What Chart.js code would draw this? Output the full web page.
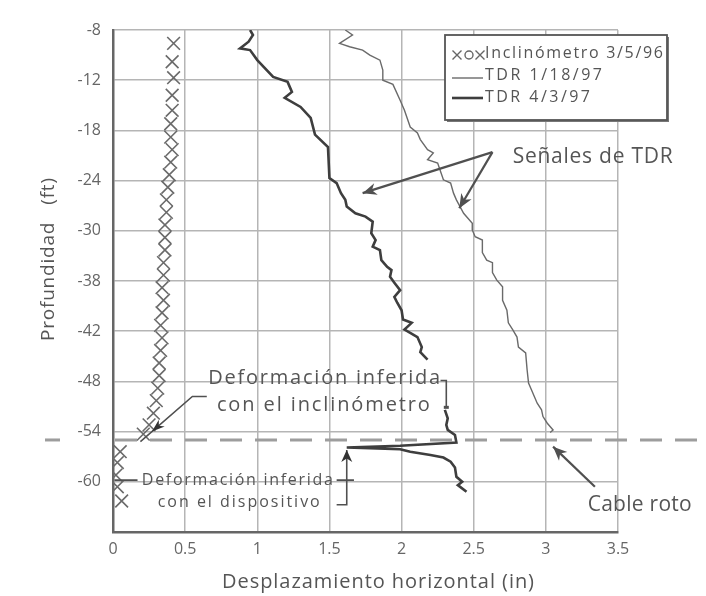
<!DOCTYPE html>
<html><head><meta charset="utf-8">
<script src="https://cdn.jsdelivr.net/npm/chart.js@4.4.1/dist/chart.umd.min.js"></script>
<style>html,body{margin:0;padding:0;background:#fff}#wrap{width:706px;height:596px}</style>
</head><body><div id="wrap"><canvas id="c" width="706" height="596"></canvas></div>
<script>
// ---- tick labels ----
const xTickValues = [0, 0.5, 1, 1.5, 2, 2.5, 3, 3.5];
const xTickLabels = ["0", "0.5", "1", "1.5", "2", "2.5", "3", "3.5"];
const yTickValues = [-6, -12, -18, -24, -30, -36, -42, -48, -54, -60];
const yTickLabels = ["-8", "-12", "-18", "-24", "-30", "-38", "-42", "-48", "-54", "-60"];

// ---- series labels ----
const seriesLabels = ["Inclinómetro 3/5/96", "TDR 1/18/97", "TDR 4/3/97"];

// ---- Inclinómetro 3/5/96 ----
const inclDepth = [-7.6,-9.8,-11.7,-13.8,-15.6,-17.2,-18.8,-20.3,-21.8,-23.3,-24.8,-26.3,-27.8,-29.3,-30.8,-32.3,-33.8,-35.3,-36.8,-38.3,-39.8,-41.3,-42.8,-44.3,-45.8,-47.3,-48.8,-50.3,-51.8,-53.2,-54.3,-56.4,-57.7,-59.2,-60.6,-62.3];
const inclDisp  = [0.42,0.41,0.42,0.41,0.41,0.40,0.40,0.41,0.40,0.39,0.38,0.37,0.37,0.36,0.36,0.36,0.35,0.35,0.34,0.35,0.34,0.33,0.34,0.33,0.32,0.32,0.31,0.30,0.28,0.25,0.21,0.05,0.03,0.02,0.03,0.06];

// ---- TDR 1/18/97 (thin) ----
const tdr1Depth = [-6.0,-6.6,-7.6,-8.0,-8.4,-9.0,-9.6,-10.8,-12.0,-12.5,-14.4,-15.6,-17.6,-18.3,-19.1,-20.3,-20.7,-21.5,-21.9,-23.9,-24.3,-25.5,-26.3,-27.9,-29.1,-29.9,-30.7,-31.1,-32.6,-33.5,-33.8,-35.0,-35.9,-36.7,-38.3,-39.5,-41.0,-41.8,-42.7,-43.9,-44.6,-46.6,-48.2,-49.0,-49.8,-50.6,-51.4,-52.2,-53.0,-53.8,-54.1];
const tdr1Disp  = [1.61,1.66,1.57,1.64,1.73,1.78,1.85,1.87,1.87,1.94,1.99,2.02,2.06,2.11,2.13,2.18,2.22,2.18,2.25,2.29,2.34,2.36,2.38,2.43,2.49,2.49,2.51,2.56,2.56,2.59,2.63,2.63,2.66,2.70,2.70,2.73,2.74,2.77,2.80,2.81,2.86,2.87,2.88,2.90,2.92,2.94,2.97,2.98,3.01,3.05,3.03];

// ---- TDR 4/3/97 (thick) ; null = gap in the record ----
const tdr2Depth = [-6.0,-6.6,-7.4,-8.2,-8.4,-9.6,-11.6,-12.2,-13.4,-14.1,-15.2,-16.5,-18.5,-20.0,-23.7,-24.3,-25.5,-26.3,-27.1,-27.9,-28.3,-28.9,-30.3,-31.1,-31.9,-32.3,-33.5,-34.3,-34.7,-35.5,-36.2,-37.1,-37.9,-38.6,-39.5,-40.6,-41.0,-41.8,-42.2,-42.7,-43.9,-44.5,-45.4,null,-51.4,-52.4,-53.2,-53.8,-54.4,-55.3,-55.7,-55.9,-56.1,-56.4,-56.8,-57.1,-57.6,-58.3,-59.4,-60.0,-60.4,-61.2];
const tdr2Disp  = [0.95,0.97,0.94,0.88,0.95,1.00,1.11,1.21,1.24,1.19,1.30,1.37,1.40,1.49,1.50,1.55,1.58,1.61,1.62,1.68,1.75,1.80,1.79,1.82,1.80,1.85,1.86,1.90,1.93,1.92,1.95,1.99,1.95,1.97,2.00,2.01,2.07,2.02,2.06,2.11,2.14,2.13,2.18,null,2.30,2.32,2.31,2.32,2.37,2.38,1.99,1.62,1.99,2.06,2.20,2.29,2.34,2.37,2.38,2.42,2.39,2.45];

// ---- annotation texts ----
const breakDepth = -55.0;
const txtSignals = "Señales de TDR";
const txtCable = "Cable roto";
const txtIncl = ["Deformación inferida", "con el inclinómetro"];
const txtDev = ["Deformación inferida", "con el dispositivo"];
const xTitle = "Desplazamiento horizontal (in)";
const yTitle = "Profundidad   (ft)";

const toPts = (ds, xs) => ds.map((d, i) => (d === null || xs[i] === null) ? {x: null, y: null} : {x: xs[i], y: d});

const FONT = '"Open Sans", "DejaVu Sans", sans-serif';
const TXT = '#555';

function fitText(ctx, text, left, cy, width, size) {
  ctx.font = size + 'px ' + FONT;
  ctx.letterSpacing = '0px';
  const m = ctx.measureText(text).width;
  let ls = (width - m) / Math.max(1, text.length - 1);
  ls = Math.max(-1.5, Math.min(4, ls));
  ctx.letterSpacing = ls + 'px';
  ctx.textAlign = 'left';
  ctx.textBaseline = 'middle';
  ctx.fillText(text, left, cy);
  ctx.letterSpacing = '0px';
}
function head(ctx, x1, y1, x2, y2, len, w) {
  const a = Math.atan2(y2 - y1, x2 - x1);
  const c = Math.cos(a), s = Math.sin(a);
  ctx.beginPath();
  ctx.moveTo(x2, y2);
  ctx.lineTo(x2 - len * c + w * s, y2 - len * s - w * c);
  ctx.lineTo(x2 - len * 0.7 * c, y2 - len * 0.7 * s);
  ctx.lineTo(x2 - len * c - w * s, y2 - len * s + w * c);
  ctx.closePath();
  ctx.fill();
}
function arrow(ctx, x1, y1, x2, y2, len, w) {
  ctx.beginPath(); ctx.moveTo(x1, y1); ctx.lineTo(x2, y2); ctx.stroke();
  head(ctx, x1, y1, x2, y2, len, w);
}

const annot = {
  id: 'annot',
  afterDatasetsDraw(chart) {
    const {ctx, scales: {x, y}, chartArea: ca} = chart;
    const P = (a, b) => [x.getPixelForValue(a), y.getPixelForValue(b)];
    ctx.save();
    // dashed break line
    const yb = y.getPixelForValue(breakDepth);
    ctx.strokeStyle = '#9d9d9d'; ctx.lineWidth = 3; ctx.setLineDash([22, 13]);
    ctx.beginPath(); ctx.moveTo(ca.left + 2, yb); ctx.lineTo(697, yb); ctx.stroke();
    ctx.beginPath(); ctx.moveTo(45, yb); ctx.lineTo(60, yb); ctx.stroke();
    ctx.setLineDash([]);

    ctx.strokeStyle = '#505050'; ctx.fillStyle = '#505050';
    // Señales de TDR arrows
    ctx.lineWidth = 2.2;
    let o = P(2.63, -20.6), t1 = P(1.73, -25.5), t2 = P(2.40, -27.3);
    arrow(ctx, o[0], o[1], t1[0], t1[1], 14, 6);
    arrow(ctx, o[0], o[1], t2[0], t2[1], 14, 6);
    // Cable roto arrow
    let c1 = P(3.34, -60.6), c2 = P(3.05, -55.8);
    arrow(ctx, c1[0], c1[1], c2[0], c2[1], 14, 6);

    // inclinometer leader
    ctx.lineWidth = 1.6;
    let a1 = P(0.65, -49.8), a2 = P(0.55, -49.8), a3 = P(0.19, -55.2), ah = P(0.27, -54.0);
    ctx.beginPath(); ctx.moveTo(a1[0], a1[1]); ctx.lineTo(a2[0], a2[1]); ctx.lineTo(a3[0], a3[1]); ctx.stroke();
    ctx.fillStyle = '#333';
    head(ctx, a2[0], a2[1], ah[0], ah[1], 13, 4.5);
    ctx.fillStyle = '#505050';
    // leader for thick line (inferida bracket)
    let b1 = P(2.27, -47.9), b2 = P(2.31, -47.9), b3 = P(2.31, -51.1);
    ctx.beginPath(); ctx.moveTo(b1[0], b1[1]); ctx.lineTo(b2[0], b2[1]); ctx.lineTo(b3[0], b3[1]); ctx.stroke();
    ctx.fillRect(b3[0] - 2.5, b3[1] - 1.5, 5, 3);

    // device bracket
    let d1 = P(1.62, -62.75), d2 = P(1.62, -56.2), d0 = P(1.55, -62.75);
    ctx.beginPath(); ctx.moveTo(d0[0], d0[1]); ctx.lineTo(d1[0], d1[1]); ctx.lineTo(d2[0], d2[1]); ctx.stroke();
    ctx.fillStyle = '#333';
    head(ctx, d1[0], d1[1], d2[0], d2[1], 12, 5.5);
    ctx.fillStyle = '#505050';
    let e1 = P(0.01, -59.8), e2 = P(0.17, -59.8), e3 = P(1.55, -59.8), e4 = P(1.67, -59.8);
    ctx.beginPath(); ctx.moveTo(e1[0], e1[1]); ctx.lineTo(e2[0], e2[1]); ctx.moveTo(e3[0], e3[1]); ctx.lineTo(e4[0], e4[1]); ctx.stroke();

    // texts
    ctx.fillStyle = TXT;
    let p = P(2.77, -21.2); fitText(ctx, txtSignals, p[0], p[1], 160, 21);
    p = P(3.29, -62.75); fitText(ctx, txtCable, p[0], p[1], 104, 21);
    p = P(0.66, -47.6); fitText(ctx, txtIncl[0], p[0], p[1], 232, 20);
    p = P(0.72, -50.8); fitText(ctx, txtIncl[1], p[0], p[1], 213, 20);
    p = P(0.20, -59.8); fitText(ctx, txtDev[0], p[0], p[1], 191, 16);
    p = P(0.31, -62.5); fitText(ctx, txtDev[1], p[0], p[1], 162, 16);

    // axis titles
    fitText(ctx, xTitle, 222, 582, 312, 20);
    ctx.save();
    ctx.translate(49, 341); ctx.rotate(-Math.PI / 2);
    fitText(ctx, yTitle, 0, 0, 163, 19);
    ctx.restore();

    // legend
    const lx = ca.right - 173, ly = ca.top + 5, lw = 222, lh = 85;
    ctx.fillStyle = '#777';
    ctx.fillRect(lx + 2, ly + 2, lw, lh);
    ctx.fillStyle = '#fff';
    ctx.fillRect(lx, ly, lw, lh);
    ctx.strokeStyle = '#555'; ctx.lineWidth = 1.8;
    ctx.strokeRect(lx, ly, lw, lh);
    const ds = chart.data.datasets;
    // incl symbol
    ctx.strokeStyle = '#666'; ctx.lineWidth = 1.4;
    [lx + 12, lx + 24, lx + 35].forEach((cx, i) => {
      const r = 4.5, yy = ly + 20;
      if (i === 1) { ctx.beginPath(); ctx.arc(cx, yy, 4, 0, Math.PI * 2); ctx.stroke(); }
      else { ctx.beginPath(); ctx.moveTo(cx - r, yy - r); ctx.lineTo(cx + r, yy + r); ctx.moveTo(cx - r, yy + r); ctx.lineTo(cx + r, yy - r); ctx.stroke(); }
    });
    ctx.strokeStyle = ds[1].borderColor; ctx.lineWidth = ds[1].borderWidth;
    ctx.beginPath(); ctx.moveTo(lx + 7, ly + 43); ctx.lineTo(lx + 38, ly + 43); ctx.stroke();
    ctx.strokeStyle = ds[2].borderColor; ctx.lineWidth = ds[2].borderWidth;
    ctx.beginPath(); ctx.moveTo(lx + 7, ly + 63); ctx.lineTo(lx + 38, ly + 63); ctx.stroke();
    ctx.fillStyle = TXT;
    fitText(ctx, ds[0].label, lx + 40, ly + 18, 178, 16);
    fitText(ctx, ds[1].label, lx + 40, ly + 40, 117, 16);
    fitText(ctx, ds[2].label, lx + 40, ly + 62, 105, 16);
    ctx.restore();
  }
};

new Chart(document.getElementById('c'), {
  type: 'line',
  data: {
    datasets: [
      { label: seriesLabels[0], data: toPts(inclDepth, inclDisp), showLine: false,
        pointStyle: 'crossRot', pointRadius: 9, borderColor: '#6a6a6a', borderWidth: 1.6, backgroundColor: 'transparent' },
      { label: seriesLabels[1], data: toPts(tdr1Depth, tdr1Disp), borderColor: '#6a6a6a', borderWidth: 1.4,
        pointRadius: 0, tension: 0, fill: false },
      { label: seriesLabels[2], data: toPts(tdr2Depth, tdr2Disp), borderColor: '#3e3e3e', borderWidth: 2.6,
        pointRadius: 0, tension: 0, fill: false, spanGaps: false }
    ]
  },
  options: {
    responsive: false, animation: false, events: [],
    layout: { padding: { top: 30, right: 88, left: 0, bottom: 0 } },
    plugins: { legend: { display: false }, tooltip: { enabled: false } },
    scales: {
      x: {
        type: 'linear', min: 0, max: 3.5,
        afterFit: s => { s.height = 64; },
        afterBuildTicks: s => { s.ticks = xTickValues.map(v => ({ value: v })); },
        ticks: { padding: 8, color: '#666', font: { family: FONT, size: 16 },
          callback: v => { const i = xTickValues.indexOf(v); return i < 0 ? '' : xTickLabels[i]; } },
        grid: { color: '#b5b5b5', lineWidth: 1.5, drawTicks: false },
        border: { color: '#666', width: 2.5 }
      },
      y: {
        type: 'linear', min: -66, max: -6,
        afterFit: s => { s.width = 113; },
        afterBuildTicks: s => { s.ticks = [-66].concat(yTickValues).map(v => ({ value: v })); },
        ticks: { padding: 12, color: '#666', font: { family: FONT, size: 16 },
          callback: v => { const i = yTickValues.indexOf(v); return i < 0 ? '' : yTickLabels[i]; } },
        grid: { color: '#b5b5b5', lineWidth: 1.5, drawTicks: false },
        border: { color: '#666', width: 2.5 }
      }
    }
  },
  plugins: [annot]
});
</script>
</body></html>
